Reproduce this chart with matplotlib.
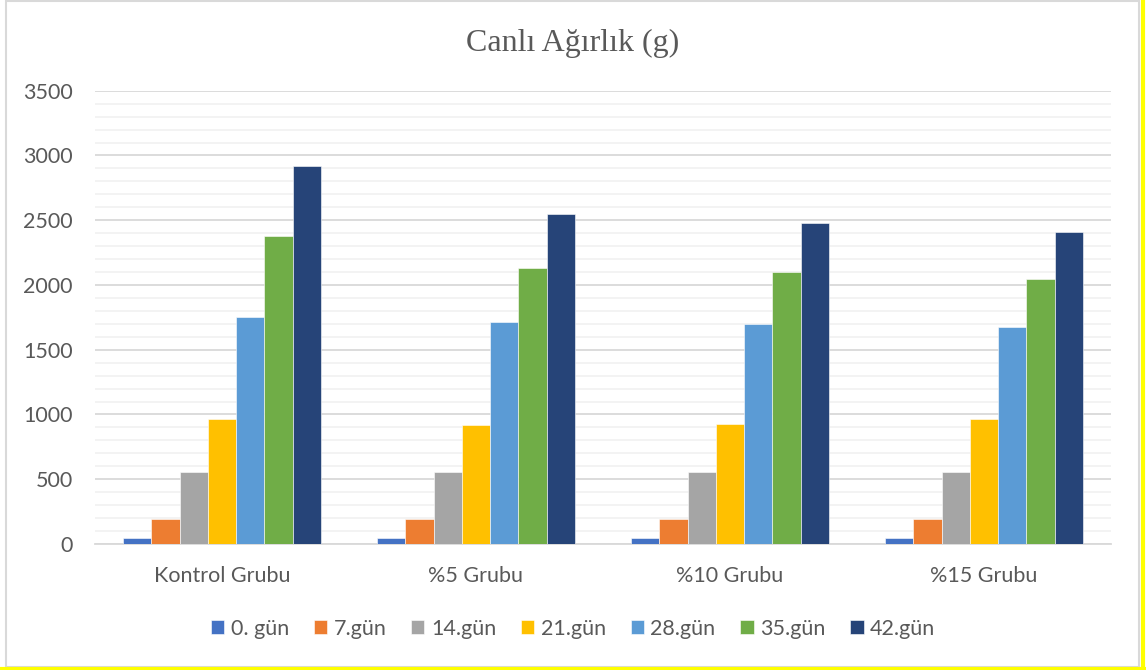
import matplotlib.pyplot as plt
import numpy as np
from matplotlib.patches import Rectangle
from matplotlib.lines import Line2D

# Canli agirlik verisi (g)
gruplar = ['Kontrol Grubu', '%5 Grubu', '%10 Grubu', '%15 Grubu']
gunler = ['0. gün', '7.gün', '14.gün', '21.gün', '28.gün', '35.gün', '42.gün']
gun0 = [44, 49, 43, 45]
gun7 = [192, 190, 190, 190]
gun14 = [558, 558, 558, 553]
gun21 = [965, 920, 930, 967]
gun28 = [1750, 1715, 1695, 1679]
gun35 = [2375, 2130, 2103, 2045]
gun42 = [2918, 2551, 2479, 2407]
renkler = ['#4472C4', '#ED7D31', '#A5A5A5', '#FFC000', '#5B9BD5', '#70AD47', '#264478']

seriler = [gun0, gun7, gun14, gun21, gun28, gun35, gun42]

plt.rcParams['font.family'] = ['Lato', 'DejaVu Sans']

fig = plt.figure(figsize=(11.46, 6.70), dpi=100)
ax = fig.add_axes([95/1146, 126/670, 1016/1146, 453.3/670])

x = np.arange(len(gruplar))
w = 1/9
for i, s in enumerate(seriler):
    ax.bar(x + (i - 3) * w, s, width=w, color=renkler[i], label=gunler[i],
           edgecolor='white', linewidth=0.4, zorder=3)

ax.set_xlim(-0.5, 3.5)
ax.set_ylim(0, 3500)
ax.set_yticks(np.arange(0, 3501, 500))
ax.set_yticks(np.arange(0, 3501, 100), minor=True)
ax.grid(axis='y', which='major', color='#D9D9D9', linewidth=1.3, zorder=0)
ax.grid(axis='y', which='minor', color='#F2F2F2', linewidth=1.3, zorder=0)
ax.set_xticks(x)
ax.set_xticklabels(gruplar)
ax.tick_params(axis='both', which='both', length=0, labelsize=15.5, colors='#595959')
ax.tick_params(axis='y', pad=16)
ax.tick_params(axis='x', pad=16)
for sp in ['top', 'right', 'left']:
    ax.spines[sp].set_visible(False)
ax.spines['bottom'].set_color('#D9D9D9')
ax.spines['bottom'].set_linewidth(1.3)

fig.text(0.5, 1 - 43/670, 'Canlı Ağırlık (g)', ha='center', va='center',
         fontsize=23, color='#595959', family=['Liberation Serif', 'DejaVu Serif'])

fig.legend(loc='center', bbox_to_anchor=(0.5, 1 - 629/670), ncol=7, frameon=False,
           fontsize=15.5, handlelength=0.62, handleheight=0.62, handletextpad=0.3,
           columnspacing=1.15, labelcolor='#595959')

# cerceve
fig.patches.append(Rectangle((6/1146, 3/670), 1133/1146, 666/670, transform=fig.transFigure,
                             fill=False, edgecolor='#D9D9D9', linewidth=1.5))
fig.lines.append(Line2D([1143/1146, 1143/1146], [0, 1], transform=fig.transFigure,
                        color='#FFFF00', linewidth=3))
fig.lines.append(Line2D([0, 1], [1.5/670, 1.5/670], transform=fig.transFigure,
                        color='#FFFF00', linewidth=3))

fig.savefig('out.png', dpi=100, facecolor='white')
